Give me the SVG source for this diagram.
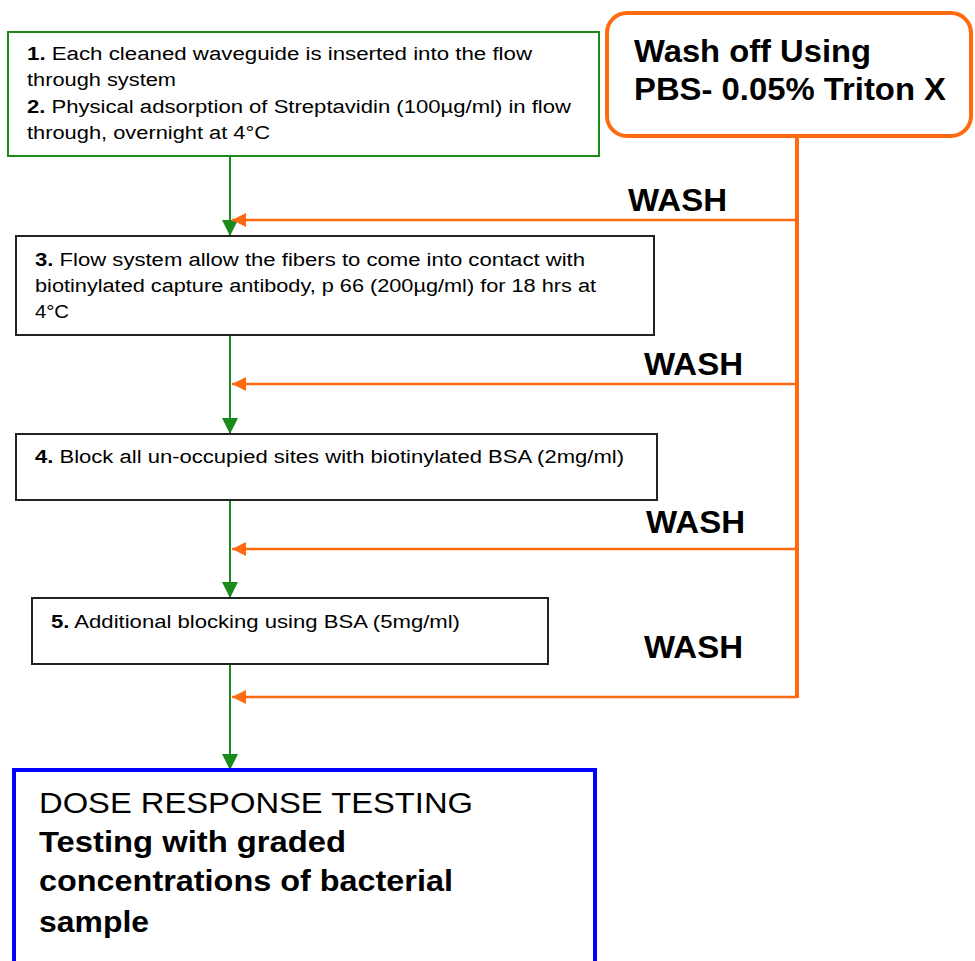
<svg xmlns="http://www.w3.org/2000/svg" width="975" height="961" viewBox="0 0 975 961">
<style>
  .sm { font-family: "Liberation Sans", Arial, sans-serif; font-size: 18px; fill: #000; }
  .big { font-family: "Liberation Sans", Arial, sans-serif; font-size: 32px; font-weight: bold; fill: #000; }
  .dose { font-family: "Liberation Sans", Arial, sans-serif; font-size: 30px; fill: #000; }
  .b { font-weight: bold; }
  .box { fill: #fff; stroke: #222; stroke-width: 2; }
  .g { stroke: #1a8a1a; stroke-width: 2; fill: none; }
  .o { stroke: #ff6a10; stroke-width: 2.5; fill: none; }
</style>
<defs>
  <marker id="ga" viewBox="0 0 16 16" refX="16" refY="8" markerWidth="16" markerHeight="16" markerUnits="userSpaceOnUse" orient="auto">
    <path d="M0,0 L16,8 L0,16 z" fill="#1a8a1a"/>
  </marker>
  <marker id="oa" viewBox="0 0 14 14" refX="14" refY="7" markerWidth="14" markerHeight="14" markerUnits="userSpaceOnUse" orient="auto">
    <path d="M0,0 L14,7 L0,14 z" fill="#ff6a10"/>
  </marker>
</defs>
<rect x="0" y="0" width="975" height="961" fill="#fff"/>

<g id="connectors">
  <line class="g" x1="230" y1="156" x2="230" y2="236" marker-end="url(#ga)"/>
  <line class="g" x1="230" y1="336" x2="230" y2="434" marker-end="url(#ga)"/>
  <line class="g" x1="230" y1="500" x2="230" y2="598" marker-end="url(#ga)"/>
  <line class="g" x1="230" y1="665" x2="230" y2="770" marker-end="url(#ga)"/>
  <line x1="797" y1="130" x2="797" y2="698" stroke="#ff6a10" stroke-width="4"/>
  <line class="o" x1="797" y1="220" x2="232" y2="220" marker-end="url(#oa)"/>
  <line class="o" x1="797" y1="384" x2="232" y2="384" marker-end="url(#oa)"/>
  <line class="o" x1="797" y1="549" x2="232" y2="549" marker-end="url(#oa)"/>
  <line class="o" x1="797" y1="697" x2="232" y2="697" marker-end="url(#oa)"/>
</g>

<g id="wash-labels">
  <text class="big" x="628" y="211" textLength="99" lengthAdjust="spacingAndGlyphs">WASH</text>
  <text class="big" x="644" y="375" textLength="99" lengthAdjust="spacingAndGlyphs">WASH</text>
  <text class="big" x="646" y="533" textLength="99" lengthAdjust="spacingAndGlyphs">WASH</text>
  <text class="big" x="644" y="658" textLength="99" lengthAdjust="spacingAndGlyphs">WASH</text>
</g>

<g id="wash-box">
  <rect x="607" y="13" width="364" height="123" rx="20" ry="20" fill="#fff" stroke="#ff6a10" stroke-width="4"/>
  <text class="big" x="634" y="62" textLength="237" lengthAdjust="spacingAndGlyphs">Wash off Using</text>
  <text class="big" x="634" y="100" textLength="312" lengthAdjust="spacingAndGlyphs">PBS- 0.05% Triton X</text>
</g>

<g id="step1-2">
  <rect x="8" y="32" width="591" height="124" fill="#fff" stroke="#1a8a1a" stroke-width="2"/>
  <text class="sm" x="27" y="60" textLength="505" lengthAdjust="spacingAndGlyphs"><tspan class="b">1.</tspan> Each cleaned waveguide is inserted into the flow</text>
  <text class="sm" x="27" y="86" textLength="149" lengthAdjust="spacingAndGlyphs">through system</text>
  <text class="sm" x="27" y="113" textLength="544" lengthAdjust="spacingAndGlyphs"><tspan class="b">2.</tspan> Physical adsorption of Streptavidin (100µg/ml) in flow</text>
  <text class="sm" x="27" y="139" textLength="243" lengthAdjust="spacingAndGlyphs">through, overnight at 4°C</text>
</g>

<g id="step3">
  <rect class="box" x="16" y="236" width="638" height="99"/>
  <text class="sm" x="35" y="266" textLength="550" lengthAdjust="spacingAndGlyphs"><tspan class="b">3.</tspan> Flow system allow the fibers to come into contact with</text>
  <text class="sm" x="35" y="292" textLength="561" lengthAdjust="spacingAndGlyphs">biotinylated capture antibody, p 66 (200µg/ml) for 18 hrs at</text>
  <text class="sm" x="35" y="318" textLength="34" lengthAdjust="spacingAndGlyphs">4°C</text>
</g>

<g id="step4">
  <rect class="box" x="16" y="434" width="641" height="66"/>
  <text class="sm" x="35" y="463" textLength="589" lengthAdjust="spacingAndGlyphs"><tspan class="b">4.</tspan> Block all un-occupied sites with biotinylated BSA (2mg/ml)</text>
</g>

<g id="step5">
  <rect class="box" x="32" y="598" width="516" height="66"/>
  <text class="sm" x="51" y="628" textLength="409" lengthAdjust="spacingAndGlyphs"><tspan class="b">5.</tspan> Additional blocking using BSA (5mg/ml)</text>
</g>

<g id="dose">
  <rect x="14" y="770" width="581" height="210" fill="#fff" stroke="#0000ff" stroke-width="4"/>
  <text class="dose" x="39" y="813" textLength="434" lengthAdjust="spacingAndGlyphs">DOSE RESPONSE TESTING</text>
  <text class="dose b" x="39" y="852" textLength="307" lengthAdjust="spacingAndGlyphs">Testing with graded</text>
  <text class="dose b" x="39" y="891" textLength="414" lengthAdjust="spacingAndGlyphs">concentrations of bacterial</text>
  <text class="dose b" x="39" y="932" textLength="110" lengthAdjust="spacingAndGlyphs">sample</text>
</g>
</svg>
